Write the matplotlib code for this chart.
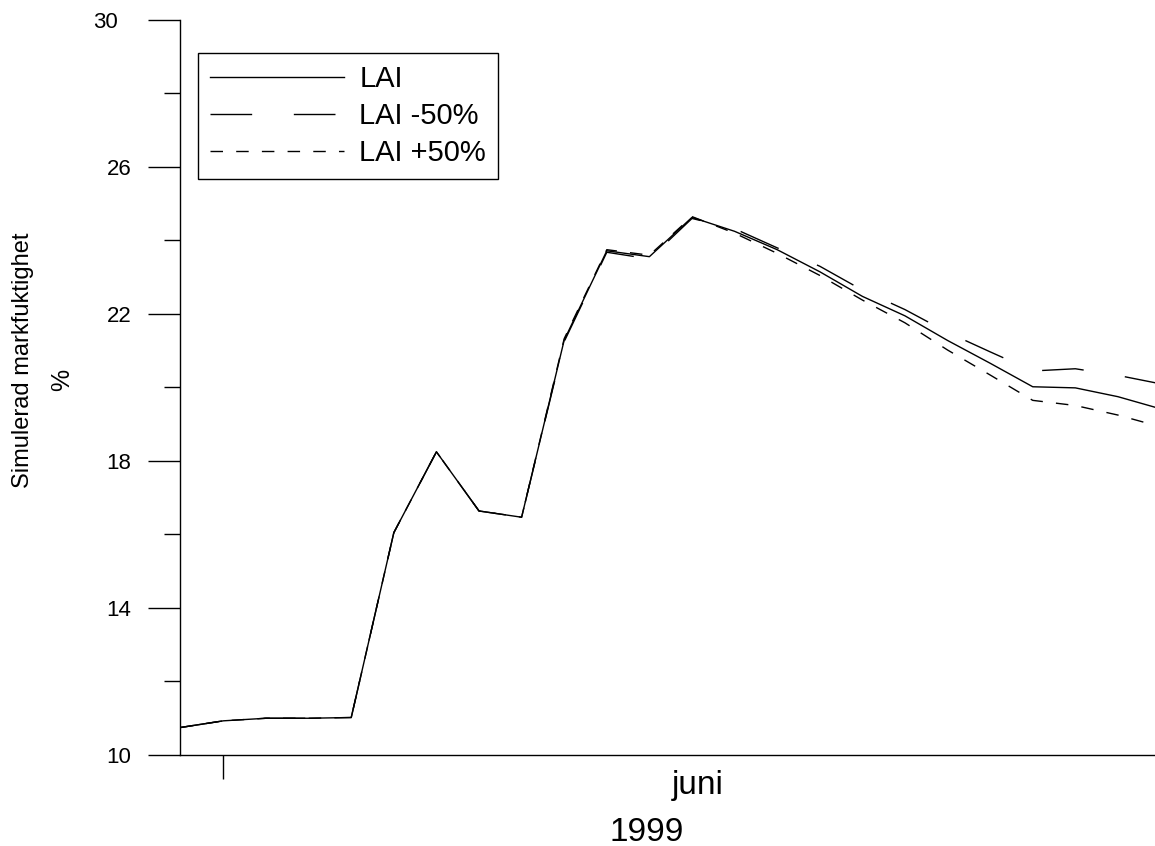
import numpy as np
import matplotlib
matplotlib.use("Agg")
import matplotlib.pyplot as plt
from matplotlib.ticker import FixedLocator
from matplotlib.transforms import ScaledTranslation

plt.rcParams['font.family'] = ['Liberation Sans', 'DejaVu Sans']

# -------------------------------
# data, one point per step
# -------------------------------
steps = np.arange(24)
lai = [10.75, 10.93, 11.00, 11.00, 11.02, 16.05, 18.25, 16.64, 16.47, 21.29,
       23.72, 23.56, 24.63, 24.25, 23.75, 23.15, 22.48, 21.95, 21.28, 20.66,
       20.02, 19.99, 19.75, 19.42]
lai_minus = [10.75, 10.93, 11.00, 11.00, 11.02, 16.05, 18.25, 16.64, 16.47, 21.25,
             23.68, 23.50, 24.60, 24.32, 23.80, 23.30, 22.65, 22.12, 21.50, 20.97,
             20.45, 20.51, 20.33, 20.10]
lai_plus = [10.75, 10.93, 11.00, 11.00, 11.02, 16.05, 18.25, 16.64, 16.47, 21.33,
            23.75, 23.60, 24.65, 24.20, 23.65, 23.05, 22.38, 21.76, 21.02, 20.34,
            19.65, 19.51, 19.25, 18.93]
labels = ["LAI", "LAI -50%", "LAI +50%"]
y_major = [10, 14, 18, 22, 26, 30]
y_minor = [12, 16, 20, 24, 28]
month_tick = 1

# -------------------------------
# figure
# -------------------------------
fig = plt.figure(figsize=(11.55, 8.46), dpi=100)
ax = fig.add_axes([180 / 1155, 1 - 755 / 846, 975 / 1155, 735 / 846])

ax.plot(steps, lai, color="black", lw=1.0, label=labels[0])
ax.plot(steps, lai_minus, color="black", lw=1.0, linestyle=(0, (30, 30)), label=labels[1])
ax.plot(steps, lai_plus, color="black", lw=1.0, linestyle=(0, (9, 9.5)), label=labels[2])

ax.set_xlim(-0.02, 22.87)
ax.set_ylim(10, 30)

for side in ["top", "right"]:
    ax.spines[side].set_visible(False)
for side in ["left", "bottom"]:
    ax.spines[side].set_linewidth(1.0)

ax.yaxis.set_major_locator(FixedLocator(y_major))
ax.yaxis.set_minor_locator(FixedLocator(y_minor))
ax.tick_params(axis="y", which="major", length=23, width=1.0, pad=12, labelsize=16)
ax.tick_params(axis="y", which="minor", length=11.5, width=1.0)

# the top label sits a bit further left in the original
fig.canvas.draw()
top_lbl = ax.get_yticklabels()[-1]
top_lbl.set_transform(top_lbl.get_transform() + ScaledTranslation(-0.14, 0, fig.dpi_scale_trans))

ax.xaxis.set_major_locator(FixedLocator([month_tick]))
ax.set_xticklabels([""])
ax.tick_params(axis="x", which="major", length=17, width=1.0)

fig.text(698 / 1155, 1 - 785 / 846, "juni", ha="center", va="center", fontsize=24)
fig.text(647 / 1155, 1 - 832 / 846, "1999", ha="center", va="center", fontsize=24)

fig.text(23 / 1155, 1 - 360 / 846, "Simulerad markfuktighet", rotation=90,
         ha="center", va="center", fontsize=17)
fig.text(62 / 1155, 1 - 380 / 846, "%", rotation=90,
         ha="center", va="center", fontsize=18)

leg = ax.legend(loc="upper left", bbox_to_anchor=(0.0185, 0.955), borderaxespad=0,
                fontsize=21, handlelength=4.6, handletextpad=0.51,
                labelspacing=0.30, borderpad=0.42, fancybox=False, framealpha=1)
leg.get_frame().set_edgecolor("black")
leg.get_frame().set_linewidth(1.0)

fig.savefig("out.png", dpi=100)
